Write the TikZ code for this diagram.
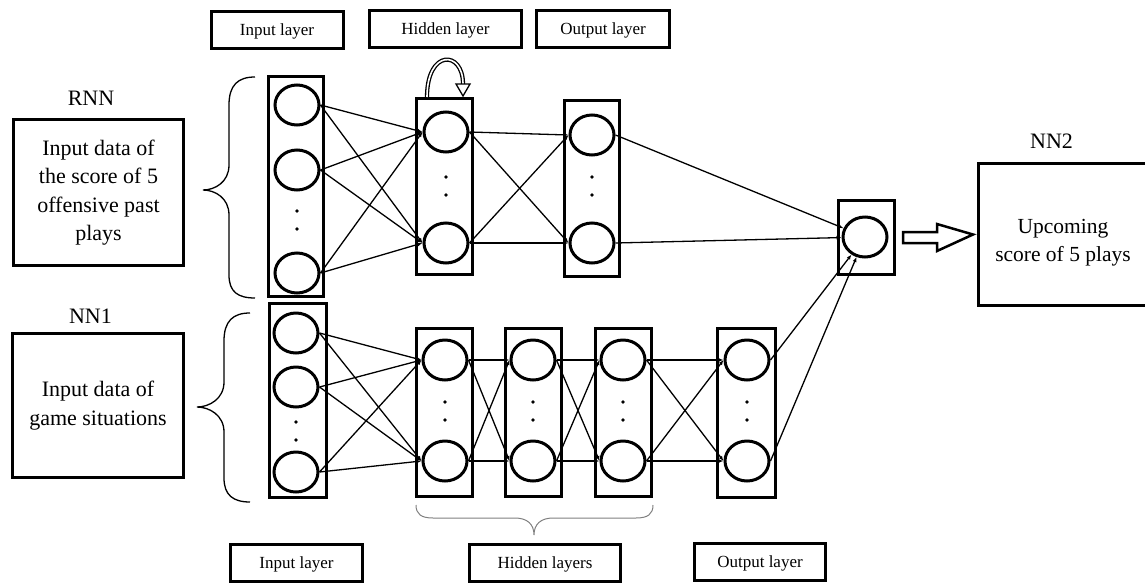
\documentclass[tikz,border=0pt]{standalone}
\usepackage{fontspec}
\setmainfont{Liberation Serif}
\usepackage{tikz}
\usetikzlibrary{shapes.geometric}
\usetikzlibrary{arrows.meta}
\usetikzlibrary{calc}

\begin{document}
\begin{tikzpicture}[x=1pt, y=-1pt,
  every node/.style={inner sep=0pt},
  layerbox/.style={draw, line width=3pt, minimum width=56pt},
  neuron/.style={draw, ellipse, line width=3pt, minimum width=44pt, minimum height=40pt},
  layertag/.style={draw, line width=3pt, minimum height=37pt, font=\fontsize{17}{20}\selectfont, text depth=0pt},
  databox/.style={draw, line width=3pt, align=center, font=\fontsize{22}{28.5}\selectfont},
  nettitle/.style={font=\fontsize{22}{26}\selectfont, anchor=base},
  edgeln/.style={-{Latex[length=5pt,width=4pt]}, line width=1.3pt},
  bracel/.style={line width=1.3pt}]
\useasboundingbox (0,0) rectangle (1145,584);

% layer tags
\node[layertag, minimum width=132pt] (TopIn) at (277,30) {Input layer};
\node[layertag, minimum width=152pt] (TopHid) at (445.5,29) {Hidden layer};
\node[layertag, minimum width=133pt] (TopOut) at (603,29) {Output layer};
\node[layertag, minimum width=132pt] (BotIn) at (296.5,563) {Input layer};
\node[layertag, minimum width=151pt] (BotHid) at (545,563) {Hidden layers};
\node[layertag, minimum width=131pt] (BotOut) at (760,561.5) {Output layer};

% data boxes
\node[nettitle] (RNNt) at (91,105) {RNN};
\node[nettitle] (NN1t) at (90.5,323) {NN1};
\node[nettitle] (NN2t) at (1051.5,148) {NN2};
\node[databox, minimum width=170pt, minimum height=146pt] (RNNbox) at (98.5,192.5) {Input data of\\the score of 5\\offensive past\\plays};
\node[databox, minimum width=171pt, minimum height=144pt] (NN1box) at (98,405.5) {Input data of\\game situations};
\node[databox, minimum width=172pt, minimum height=142pt] (NN2box) at (1064.5,234.5) {};
\node[font=\fontsize{21.5}{28}\selectfont, align=center] (NN2txt) at (1063,243) {Upcoming\\score of 5 plays};

% columns
\node[layerbox, minimum width=55pt, minimum height=220pt] (RI) at (296,186.5) {};
\node[layerbox, minimum height=176pt] (RH) at (444.5,186.5) {};
\node[layerbox, minimum width=55pt, minimum height=176pt] (RO) at (592,188.5) {};
\node[layerbox, minimum height=74pt] (FB) at (866.5,237.5) {};
\node[layerbox, minimum width=57pt, minimum height=194pt] (NI) at (298,400.5) {};
\node[layerbox, minimum height=168pt] (H1) at (444.5,412.5) {};
\node[layerbox, minimum height=168pt] (H2) at (533.5,412.5) {};
\node[layerbox, minimum height=168pt] (H3) at (623.5,412.5) {};
\node[layerbox, minimum width=58pt, minimum height=169pt] (NO) at (746.5,413) {};

% neurons
\node[neuron] (RIN1) at (297,105) {};
\node[neuron] (RIN2) at (297,170) {};
\node[neuron] (RIN3) at (297,273) {};
\node[neuron] (RHN1) at (446,132) {};
\node[neuron] (RHN2) at (446,243) {};
\node[neuron] (RON1) at (592,135) {};
\node[neuron] (RON2) at (592,243) {};
\node[neuron] (FN) at (865,237) {};
\node[neuron] (NIN1) at (296,333) {};
\node[neuron] (NIN2) at (296,387) {};
\node[neuron] (NIN3) at (296,472) {};
\node[neuron] (H1N1) at (445,360) {};
\node[neuron] (H1N2) at (445,461) {};
\node[neuron] (H2N1) at (533,360) {};
\node[neuron] (H2N2) at (533,461) {};
\node[neuron] (H3N1) at (623,360) {};
\node[neuron] (H3N2) at (623,461) {};
\node[neuron] (NON1) at (747,360) {};
\node[neuron] (NON2) at (747,461) {};

% dots
\fill (297,211) circle (1.8) (297,229) circle (1.8);
\fill (446,177) circle (1.8) (446,195) circle (1.8);
\fill (592,177) circle (1.8) (592,195) circle (1.8);
\fill (296,422) circle (1.8) (296,440) circle (1.8);
\fill (445,402) circle (1.8) (445,420) circle (1.8);
\fill (533,402) circle (1.8) (533,420) circle (1.8);
\fill (623,402) circle (1.8) (623,420) circle (1.8);
\fill (747,402) circle (1.8) (747,420) circle (1.8);

% RNN
\draw[edgeln] (RIN1.east) -- (RHN1.west);
\draw[edgeln] (RIN1.east) -- (RHN2.west);
\draw[edgeln] (RIN2.east) -- (RHN1.west);
\draw[edgeln] (RIN2.east) -- (RHN2.west);
\draw[edgeln] (RIN3.east) -- (RHN1.west);
\draw[edgeln] (RIN3.east) -- (RHN2.west);
\draw[edgeln] (RHN1.east) -- (RON1.west);
\draw[edgeln] (RHN1.east) -- (RON2.west);
\draw[edgeln] (RHN2.east) -- (RON1.west);
\draw[edgeln] (RHN2.east) -- (RON2.west);
\draw[edgeln] (RON1.east) -- (FN);
\draw[edgeln] (RON2.east) -- (FN);

% NN1
\draw[edgeln] (NIN1.east) -- (H1N1.west);
\draw[edgeln] (NIN1.east) -- (H1N2.west);
\draw[edgeln] (NIN2.east) -- (H1N1.west);
\draw[edgeln] (NIN2.east) -- (H1N2.west);
\draw[edgeln] (NIN3.east) -- (H1N1.west);
\draw[edgeln] (NIN3.east) -- (H1N2.west);
\draw[edgeln] (H1N1.east) -- (H2N1.west);
\draw[edgeln] (H1N1.east) -- (H2N2.west);
\draw[edgeln] (H1N2.east) -- (H2N1.west);
\draw[edgeln] (H1N2.east) -- (H2N2.west);
\draw[edgeln] (H2N1.east) -- (H3N1.west);
\draw[edgeln] (H2N1.east) -- (H3N2.west);
\draw[edgeln] (H2N2.east) -- (H3N1.west);
\draw[edgeln] (H2N2.east) -- (H3N2.west);
\draw[edgeln] (H3N1.east) -- (NON1.west);
\draw[edgeln] (H3N1.east) -- (NON2.west);
\draw[edgeln] (H3N2.east) -- (NON1.west);
\draw[edgeln] (H3N2.east) -- (NON2.west);
\draw[edgeln] (NON1.east) -- (FN);
\draw[edgeln] (NON2.east) -- (FN);

% recurrent loop
\draw[double, double distance=1.6pt, line width=1.3pt] ([xshift=-17.5pt]RH.north) .. controls +(0,-48) and +(0,-34) .. ([xshift=18.5pt,yshift=13pt]RH.north);
\draw[line width=1.3pt, fill=white, line join=miter] ([xshift=11.5pt,yshift=13pt]RH.north) -- ([xshift=25.5pt,yshift=13pt]RH.north) -- ([xshift=18.5pt,yshift=1pt]RH.north) -- cycle;

% output arrow
\draw[line width=2.5pt, line join=miter] ($(FB.east)+(7,-5.5)$) -- ++(34,0) -- ++(0,-8) -- ($(NN2box.west)+(-4,0)$) -- ($(FB.east)+(41,13.5)$) -- ++(0,-8) -- ++(-34,0) -- cycle;

% braces
\draw[bracel] (255,77) .. controls (238,77) and (229,85) .. (229,105) -- (229,165) .. controls (229,182) and (215,190) .. (203,190) .. controls (215,190) and (229,198) .. (229,215) -- (229,275) .. controls (229,292) and (238,298) .. (255,298);
\draw[bracel] (250,313) .. controls (233,313) and (224,321) .. (224,341) -- (224,382) .. controls (224,399) and (209,407) .. (197,407) .. controls (209,407) and (224,415) .. (224,432) -- (224,478) .. controls (224,495) and (233,502) .. (250,502);
\draw[gray, line width=1pt] (416,505) .. controls (416,514) and (421,518) .. (433,518) -- (515,518) .. controls (527,518) and (534,524) .. (534,535) .. controls (534,524) and (541,518) .. (553,518) -- (636,518) .. controls (648,518) and (653,514) .. (653,505);
\end{tikzpicture}
\end{document}
